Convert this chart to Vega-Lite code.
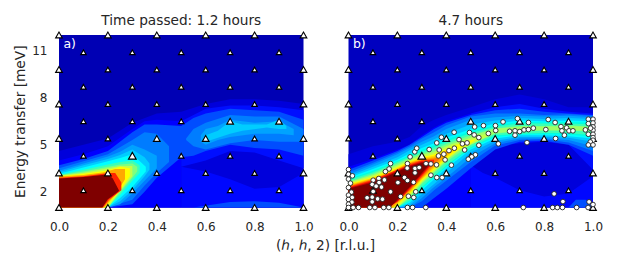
{"$schema":"https://vega.github.io/schema/vega-lite/v6.json","padding":{"left":13,"top":14,"right":0,"bottom":0},"background":"white","spacing":44.5,"bounds":"flush","config":{"font":"DejaVu Sans","view":{"stroke":null},"title":{"fontSize":13.7,"fontWeight":"normal","color":"#262626","offset":2},"axisX":{"labelPadding":14},"axisY":{"labelPadding":12},"axis":{"grid":false,"domain":false,"ticks":false,"labelFlush":false,"labelColor":"#262626","titleColor":"#262626","labelFontSize":12,"titleFontSize":13.7,"titleFontWeight":"normal"}},
"datasets":{
"bandA":[
{"v":8,"h":0,"lo":1,"hi":4.6},{"v":8,"h":0.1,"lo":1,"hi":5},{"v":8,"h":0.2,"lo":1,"hi":5.4},{"v":8,"h":0.3,"lo":1,"hi":6.4},{"v":8,"h":0.4,"lo":1,"hi":7},{"v":8,"h":0.5,"lo":1,"hi":7.1},{"v":8,"h":0.6,"lo":1,"hi":7.6},{"v":8,"h":0.7,"lo":1,"hi":7.9},{"v":8,"h":0.8,"lo":1,"hi":7.9},{"v":8,"h":0.9,"lo":1,"hi":7.8},{"v":8,"h":1,"lo":1,"hi":7.6},
{"v":11,"h":0,"lo":1,"hi":4},{"v":11,"h":0.1,"lo":1,"hi":4.4},{"v":11,"h":0.2,"lo":1,"hi":4.9},{"v":11,"h":0.3,"lo":1,"hi":6},{"v":11,"h":0.35,"lo":1,"hi":6.5},{"v":11,"h":0.4,"lo":1,"hi":6.6},{"v":11,"h":0.5,"lo":1,"hi":6.5},
{"v":11.1,"h":0.5,"lo":1,"hi":3.6},{"v":11.1,"h":0.6,"lo":1,"hi":3.3},{"v":11.1,"h":0.7,"lo":1,"hi":2.8},{"v":11.1,"h":0.8,"lo":1,"hi":2.2},{"v":11.1,"h":0.9,"lo":1,"hi":2.3},{"v":11.1,"h":1,"lo":1,"hi":3.2},
{"v":11.2,"h":0.5,"lo":3.6,"hi":6.5},{"v":11.2,"h":0.6,"lo":4,"hi":7.3},{"v":11.2,"h":0.7,"lo":4.6,"hi":7.5},{"v":11.2,"h":0.8,"lo":4.5,"hi":7.5},{"v":11.2,"h":0.9,"lo":4,"hi":7.4},{"v":11.2,"h":1,"lo":3.5,"hi":7.2},
{"v":14,"h":0,"lo":1,"hi":3.7},{"v":14,"h":0.1,"lo":1,"hi":4.1},{"v":14,"h":0.2,"lo":1,"hi":4.6},{"v":14,"h":0.3,"lo":1.2,"hi":5.8},{"v":14,"h":0.35,"lo":2,"hi":6.3},{"v":14,"h":0.4,"lo":2.9,"hi":6.3},{"v":14,"h":0.5,"lo":4.2,"hi":6.2},{"v":14,"h":0.55,"lo":4.3,"hi":6.7},{"v":14,"h":0.6,"lo":4.6,"hi":7},{"v":14,"h":0.7,"lo":5,"hi":7.3},{"v":14,"h":0.8,"lo":4.8,"hi":7.2},{"v":14,"h":0.9,"lo":4.7,"hi":7.1},{"v":14,"h":1,"lo":4.3,"hi":6.6},
{"v":14.1,"h":0.55,"lo":1,"hi":1},{"v":14.1,"h":0.7,"lo":1,"hi":1.35},{"v":14.1,"h":0.8,"lo":1,"hi":1.4},{"v":14.1,"h":0.9,"lo":1,"hi":1.3},{"v":14.1,"h":1,"lo":1,"hi":1},
{"v":18,"h":0,"lo":1,"hi":3.5},{"v":18,"h":0.1,"lo":1,"hi":3.95},{"v":18,"h":0.2,"lo":1,"hi":4.4},{"v":18,"h":0.3,"lo":1.5,"hi":5.3},{"v":18,"h":0.35,"lo":2.4,"hi":5.8},{"v":18,"h":0.4,"lo":3.2,"hi":5.7},{"v":18,"h":0.45,"lo":3.9,"hi":4.9},
{"v":18.1,"h":0.52,"lo":5.3,"hi":5.4},{"v":18.1,"h":0.55,"lo":4.9,"hi":6},{"v":18.1,"h":0.6,"lo":4.7,"hi":6.4},{"v":18.1,"h":0.7,"lo":5.1,"hi":6.9},{"v":18.1,"h":0.8,"lo":5.3,"hi":6.8},{"v":18.1,"h":0.9,"lo":5.2,"hi":6.8},{"v":18.1,"h":1,"lo":5.2,"hi":6},
{"v":22,"h":0,"lo":1,"hi":3.35},{"v":22,"h":0.1,"lo":1,"hi":3.8},{"v":22,"h":0.2,"lo":1,"hi":4.25},{"v":22,"h":0.25,"lo":1.2,"hi":4.55},{"v":22,"h":0.3,"lo":1.9,"hi":5},{"v":22,"h":0.35,"lo":2.7,"hi":4.7},{"v":22,"h":0.4,"lo":3.5,"hi":4.3},
{"v":22.1,"h":0.58,"lo":5.2,"hi":5.6},{"v":22.1,"h":0.6,"lo":5,"hi":6},{"v":22.1,"h":0.65,"lo":5.3,"hi":6.2},{"v":22.1,"h":0.7,"lo":5.5,"hi":6.6},{"v":22.1,"h":0.8,"lo":5.7,"hi":6.4},{"v":22.1,"h":0.9,"lo":5.7,"hi":6.5},{"v":22.1,"h":0.96,"lo":5.6,"hi":6},
{"v":27,"h":0,"lo":1,"hi":3.25},{"v":27,"h":0.1,"lo":1,"hi":3.7},{"v":27,"h":0.2,"lo":1,"hi":4.1},{"v":27,"h":0.25,"lo":1.4,"hi":4.35},{"v":27,"h":0.3,"lo":2.1,"hi":4.7},{"v":27,"h":0.35,"lo":3,"hi":4.2},{"v":27,"h":0.37,"lo":3.4,"hi":3.8},
{"v":27.1,"h":0.6,"lo":5.2,"hi":5.6},{"v":27.1,"h":0.65,"lo":5.45,"hi":5.9},{"v":27.1,"h":0.7,"lo":5.7,"hi":6.5},{"v":27.1,"h":0.75,"lo":5.9,"hi":6.3},{"v":27.1,"h":0.85,"lo":6.1,"hi":6.3},{"v":27.1,"h":0.9,"lo":6,"hi":6.6},{"v":27.1,"h":0.93,"lo":6,"hi":6.2},
{"v":34,"h":0,"lo":1,"hi":3.15},{"v":34,"h":0.1,"lo":1,"hi":3.55},{"v":34,"h":0.2,"lo":1,"hi":3.95},{"v":34,"h":0.25,"lo":1.6,"hi":4.15},{"v":34,"h":0.3,"lo":2.3,"hi":4.4},{"v":34,"h":0.355,"lo":3.3,"hi":3.6},
{"v":44,"h":0,"lo":1,"hi":3.08},{"v":44,"h":0.1,"lo":1,"hi":3.4},{"v":44,"h":0.2,"lo":1,"hi":3.75},{"v":44,"h":0.25,"lo":1.8,"hi":3.9},{"v":44,"h":0.3,"lo":2.7,"hi":4},{"v":44,"h":0.33,"lo":3.2,"hi":3.7},
{"v":50,"h":0,"lo":1,"hi":3.05},{"v":50,"h":0.1,"lo":1,"hi":3.3},{"v":50,"h":0.2,"lo":1,"hi":3.6},{"v":50,"h":0.25,"lo":1.95,"hi":3.75},{"v":50,"h":0.3,"lo":2.9,"hi":3.8},{"v":50,"h":0.32,"lo":3.3,"hi":3.6},
{"v":58,"h":0,"lo":1,"hi":3.02},{"v":58,"h":0.1,"lo":1,"hi":3.22},{"v":58,"h":0.2,"lo":1,"hi":3.5},{"v":58,"h":0.25,"lo":2.05,"hi":3.65},{"v":58,"h":0.3,"lo":3,"hi":3.65},
{"v":65,"h":0,"lo":1,"hi":3},{"v":65,"h":0.1,"lo":1,"hi":3.15},{"v":65,"h":0.19,"lo":1,"hi":3.35},{"v":65,"h":0.25,"lo":2.1,"hi":3.6},{"v":65,"h":0.29,"lo":3,"hi":3.5},
{"v":76,"h":0,"lo":1,"hi":2.97},{"v":76,"h":0.1,"lo":1,"hi":3.08},{"v":76,"h":0.185,"lo":1,"hi":3.25},{"v":76,"h":0.23,"lo":1.8,"hi":3.45},{"v":76,"h":0.27,"lo":2.8,"hi":3.45},
{"v":88,"h":0,"lo":1,"hi":2.9},{"v":88,"h":0.1,"lo":1,"hi":3},{"v":88,"h":0.18,"lo":1,"hi":3.15},{"v":88,"h":0.205,"lo":1.5,"hi":3.2},{"v":88,"h":0.23,"lo":1.8,"hi":3.2},{"v":88,"h":0.255,"lo":2.1,"hi":2.6},
{"v":100,"h":0,"lo":1,"hi":2.85},{"v":100,"h":0.1,"lo":1,"hi":2.95},{"v":100,"h":0.177,"lo":1,"hi":3.08},{"v":100,"h":0.2,"lo":1.52,"hi":3.12},{"v":100,"h":0.22,"lo":1.75,"hi":2.85},{"v":100,"h":0.245,"lo":2.06,"hi":2.1}],
"bandB":[
{"v":8,"h":0,"lo":1,"hi":4.4},{"v":8,"h":0.1,"lo":1,"hi":4.9},{"v":8,"h":0.2,"lo":1,"hi":5.2},{"v":8,"h":0.25,"lo":1,"hi":5.5},{"v":8,"h":0.3,"lo":1,"hi":6.2},{"v":8,"h":0.35,"lo":1,"hi":6.6},{"v":8,"h":0.4,"lo":1,"hi":6.9},{"v":8,"h":0.5,"lo":1,"hi":7.4},{"v":8,"h":0.6,"lo":1,"hi":7.9},{"v":8,"h":0.7,"lo":1,"hi":8.2},{"v":8,"h":0.8,"lo":1,"hi":7.9},{"v":8,"h":0.9,"lo":1,"hi":7.4},{"v":8,"h":1,"lo":1,"hi":7.4},
{"v":11,"h":0,"lo":1,"hi":3.6},{"v":11,"h":0.1,"lo":1,"hi":4.1},{"v":11,"h":0.2,"lo":1,"hi":4.7},{"v":11,"h":0.25,"lo":1,"hi":5},{"v":11,"h":0.3,"lo":1,"hi":5.6},{"v":11,"h":0.35,"lo":1,"hi":6.1},{"v":11,"h":0.4,"lo":1,"hi":6.5},{"v":11,"h":0.5,"lo":1,"hi":7},
{"v":11.1,"h":0.5,"lo":1,"hi":3.7},{"v":11.1,"h":0.55,"lo":1,"hi":3.2},{"v":11.1,"h":0.6,"lo":1,"hi":2.9},{"v":11.1,"h":0.7,"lo":1,"hi":2.1},{"v":11.1,"h":0.8,"lo":1,"hi":1.7},{"v":11.1,"h":0.9,"lo":1,"hi":1.9},{"v":11.1,"h":1,"lo":1,"hi":3},
{"v":11.2,"h":0.5,"lo":3.7,"hi":7},{"v":11.2,"h":0.55,"lo":4.4,"hi":7.2},{"v":11.2,"h":0.6,"lo":4.9,"hi":7.4},{"v":11.2,"h":0.7,"lo":5.1,"hi":7.6},{"v":11.2,"h":0.8,"lo":5.2,"hi":7.3},{"v":11.2,"h":0.9,"lo":5,"hi":7.1},{"v":11.2,"h":1,"lo":3.4,"hi":7},
{"v":14,"h":0,"lo":1,"hi":3.4},{"v":14,"h":0.1,"lo":1,"hi":4},{"v":14,"h":0.2,"lo":1,"hi":4.6},{"v":14,"h":0.25,"lo":1,"hi":5},{"v":14,"h":0.3,"lo":1,"hi":5.5},{"v":14,"h":0.35,"lo":1.6,"hi":6},{"v":14,"h":0.4,"lo":2.2,"hi":6.4},{"v":14,"h":0.5,"lo":3.5,"hi":6.9},{"v":14,"h":0.6,"lo":4.7,"hi":7.2},{"v":14,"h":0.7,"lo":5.2,"hi":7.3},{"v":14,"h":0.8,"lo":5.25,"hi":7.1},{"v":14,"h":0.9,"lo":5,"hi":7},{"v":14,"h":1,"lo":4.3,"hi":6.9},
{"v":14.1,"h":0.9,"lo":1,"hi":1},{"v":14.1,"h":0.93,"lo":1,"hi":1.5},{"v":14.1,"h":0.97,"lo":1,"hi":1.5},{"v":14.1,"h":1,"lo":1,"hi":1.1},
{"v":18,"h":0,"lo":1,"hi":3.25},{"v":18,"h":0.1,"lo":1,"hi":3.85},{"v":18,"h":0.2,"lo":1,"hi":4.5},{"v":18,"h":0.25,"lo":1,"hi":4.9},{"v":18,"h":0.3,"lo":1.4,"hi":5.4},{"v":18,"h":0.35,"lo":2.1,"hi":5.8},{"v":18,"h":0.4,"lo":2.7,"hi":6.25},{"v":18,"h":0.5,"lo":3.9,"hi":6.8},{"v":18,"h":0.6,"lo":4.95,"hi":7},{"v":18,"h":0.7,"lo":5.3,"hi":7},{"v":18,"h":0.8,"lo":5.35,"hi":6.9},{"v":18,"h":0.9,"lo":5.15,"hi":6.95},{"v":18,"h":1,"lo":4.6,"hi":6.85},
{"v":22,"h":0,"lo":1,"hi":3.1},{"v":22,"h":0.1,"lo":1,"hi":3.75},{"v":22,"h":0.2,"lo":1,"hi":4.4},{"v":22,"h":0.25,"lo":1,"hi":4.8},{"v":22,"h":0.3,"lo":1.6,"hi":5.2},{"v":22,"h":0.35,"lo":2.3,"hi":5.55},{"v":22,"h":0.4,"lo":2.9,"hi":6},{"v":22,"h":0.5,"lo":4.2,"hi":6.6},{"v":22,"h":0.6,"lo":5.1,"hi":6.75},{"v":22,"h":0.7,"lo":5.4,"hi":6.85},{"v":22,"h":0.8,"lo":5.4,"hi":6.8},{"v":22,"h":0.9,"lo":5.3,"hi":6.85},{"v":22,"h":1,"lo":4.9,"hi":6.75},
{"v":27,"h":0,"lo":1,"hi":3},{"v":27,"h":0.1,"lo":1,"hi":3.6},{"v":27,"h":0.2,"lo":1,"hi":4.2},{"v":27,"h":0.25,"lo":1.15,"hi":4.65},{"v":27,"h":0.3,"lo":1.85,"hi":5},{"v":27,"h":0.35,"lo":2.5,"hi":5.35},{"v":27,"h":0.4,"lo":3.2,"hi":5.7},{"v":27,"h":0.5,"lo":4.5,"hi":6.3},{"v":27,"h":0.6,"lo":5.25,"hi":6.55},{"v":27,"h":0.7,"lo":5.5,"hi":6.7},{"v":27,"h":0.8,"lo":5.5,"hi":6.65},{"v":27,"h":0.9,"lo":5.45,"hi":6.7},{"v":27,"h":1,"lo":5.2,"hi":6.65},
{"v":34,"h":0,"lo":1,"hi":2.9},{"v":34,"h":0.1,"lo":1,"hi":3.45},{"v":34,"h":0.2,"lo":1,"hi":4.05},{"v":34,"h":0.25,"lo":1.3,"hi":4.45},{"v":34,"h":0.3,"lo":2.1,"hi":4.8},{"v":34,"h":0.35,"lo":2.8,"hi":5.1},{"v":34,"h":0.4,"lo":3.5,"hi":5.45},{"v":34,"h":0.5,"lo":4.7,"hi":6},{"v":34,"h":0.6,"lo":5.4,"hi":6.35},{"v":34,"h":0.7,"lo":5.6,"hi":6.55},{"v":34,"h":0.8,"lo":5.6,"hi":6.5},{"v":34,"h":0.9,"lo":5.55,"hi":6.55},{"v":34,"h":1,"lo":5.4,"hi":6.5},
{"v":39,"h":0,"lo":1,"hi":2.82},{"v":39,"h":0.1,"lo":1,"hi":3.35},{"v":39,"h":0.2,"lo":1,"hi":3.97},{"v":39,"h":0.25,"lo":1.38,"hi":4.35},{"v":39,"h":0.3,"lo":2.2,"hi":4.67},{"v":39,"h":0.35,"lo":2.9,"hi":4.97},{"v":39,"h":0.4,"lo":3.6,"hi":5.32},{"v":39,"h":0.5,"lo":4.78,"hi":5.87},{"v":39,"h":0.6,"lo":5.5,"hi":6.25},{"v":39,"h":0.7,"lo":5.65,"hi":6.45},{"v":39,"h":0.8,"lo":5.67,"hi":6.42},{"v":39,"h":0.9,"lo":5.65,"hi":6.45},{"v":39,"h":1,"lo":5.5,"hi":6.4},
{"v":44,"h":0,"lo":1,"hi":2.75},{"v":44,"h":0.1,"lo":1,"hi":3.25},{"v":44,"h":0.2,"lo":1,"hi":3.9},{"v":44,"h":0.25,"lo":1.45,"hi":4.25},{"v":44,"h":0.3,"lo":2.3,"hi":4.55},{"v":44,"h":0.35,"lo":3,"hi":4.85},{"v":44,"h":0.4,"lo":3.7,"hi":5.2},{"v":44,"h":0.5,"lo":4.85,"hi":5.75},{"v":44,"h":0.6,"lo":5.6,"hi":6.15},{"v":44,"h":0.7,"lo":5.7,"hi":6.35},{"v":44,"h":0.8,"lo":5.75,"hi":6.35},{"v":44,"h":0.9,"lo":5.75,"hi":6.35},{"v":44,"h":1,"lo":5.6,"hi":6.3},
{"v":50,"h":0,"lo":1,"hi":2.65},{"v":50,"h":0.1,"lo":1,"hi":3.15},{"v":50,"h":0.2,"lo":1,"hi":3.8},{"v":50,"h":0.25,"lo":1.6,"hi":4.15},{"v":50,"h":0.3,"lo":2.5,"hi":4.45},{"v":50,"h":0.35,"lo":3.2,"hi":4.7},{"v":50,"h":0.4,"lo":3.9,"hi":5.05},{"v":50,"h":0.5,"lo":5,"hi":5.6},{"v":50,"h":0.6,"lo":5.7,"hi":6.05},{"v":50,"h":0.7,"lo":5.85,"hi":6.2},{"v":50,"h":0.8,"lo":5.9,"hi":6.2},{"v":50,"h":0.9,"lo":5.9,"hi":6.25},{"v":50,"h":1,"lo":5.85,"hi":6.15},
{"v":54,"h":0.5,"lo":5.05,"hi":5.55},{"v":54,"h":0.6,"lo":5.75,"hi":6.02},{"v":54,"h":0.7,"lo":5.9,"hi":6.15},{"v":54,"h":0.8,"lo":5.95,"hi":6.15},{"v":54,"h":0.9,"lo":5.95,"hi":6.2},{"v":54,"h":1,"lo":5.9,"hi":6.12},
{"v":58,"h":0,"lo":1,"hi":2.6},{"v":58,"h":0.1,"lo":1,"hi":3.05},{"v":58,"h":0.2,"lo":1,"hi":3.7},{"v":58,"h":0.25,"lo":1.7,"hi":4.05},{"v":58,"h":0.3,"lo":2.6,"hi":4.35},{"v":58,"h":0.35,"lo":3.3,"hi":4.55},{"v":58,"h":0.4,"lo":4,"hi":4.9},{"v":58,"h":0.45,"lo":4.6,"hi":5.2},{"v":58,"h":0.5,"lo":5,"hi":5.45},{"v":58,"h":0.55,"lo":5.4,"hi":5.65},{"v":58,"h":0.58,"lo":5.6,"hi":5.7},
{"v":65,"h":0,"lo":1,"hi":2.5},{"v":65,"h":0.1,"lo":1,"hi":2.95},{"v":65,"h":0.19,"lo":1,"hi":3.5},{"v":65,"h":0.25,"lo":1.85,"hi":3.95},{"v":65,"h":0.3,"lo":2.7,"hi":4.2},{"v":65,"h":0.35,"lo":3.4,"hi":4.4},{"v":65,"h":0.4,"lo":4.1,"hi":4.75},{"v":65,"h":0.45,"lo":4.7,"hi":5.05},{"v":65,"h":0.5,"lo":5.1,"hi":5.3},{"v":65,"h":0.52,"lo":5.3,"hi":5.35},
{"v":70,"h":0,"lo":1,"hi":2.45},{"v":70,"h":0.1,"lo":1,"hi":2.9},{"v":70,"h":0.185,"lo":1,"hi":3.4},{"v":70,"h":0.25,"lo":1.92,"hi":3.9},{"v":70,"h":0.3,"lo":2.78,"hi":4.15},{"v":70,"h":0.35,"lo":3.5,"hi":4.3},{"v":70,"h":0.4,"lo":4.2,"hi":4.67},{"v":70,"h":0.44,"lo":4.7,"hi":4.85},
{"v":76,"h":0,"lo":1,"hi":2.4},{"v":76,"h":0.1,"lo":1,"hi":2.85},{"v":76,"h":0.18,"lo":1,"hi":3.3},{"v":76,"h":0.25,"lo":2,"hi":3.85},{"v":76,"h":0.3,"lo":2.85,"hi":4.1},{"v":76,"h":0.35,"lo":3.6,"hi":4.2},{"v":76,"h":0.4,"lo":4.3,"hi":4.6},{"v":76,"h":0.42,"lo":4.6,"hi":4.7},
{"v":82,"h":0,"lo":1,"hi":2.35},{"v":82,"h":0.1,"lo":1,"hi":2.8},{"v":82,"h":0.17,"lo":1,"hi":3.2},{"v":82,"h":0.25,"lo":2.08,"hi":3.8},{"v":82,"h":0.3,"lo":2.92,"hi":4.05},{"v":82,"h":0.35,"lo":3.75,"hi":4.12},{"v":82,"h":0.37,"lo":4.05,"hi":4.2},
{"v":88,"h":0,"lo":1,"hi":2.3},{"v":88,"h":0.1,"lo":1,"hi":2.75},{"v":88,"h":0.16,"lo":1,"hi":3.15},{"v":88,"h":0.2,"lo":1.35,"hi":3.4},{"v":88,"h":0.25,"lo":2.15,"hi":3.75},{"v":88,"h":0.3,"lo":3,"hi":4},{"v":88,"h":0.35,"lo":3.9,"hi":4.05},
{"v":94,"h":0,"lo":1,"hi":2.25},{"v":94,"h":0.1,"lo":1,"hi":2.67},{"v":94,"h":0.165,"lo":1,"hi":3.1},{"v":94,"h":0.2,"lo":1.42,"hi":3.35},{"v":94,"h":0.25,"lo":2.22,"hi":3.68},{"v":94,"h":0.3,"lo":3.1,"hi":3.92},{"v":94,"h":0.34,"lo":3.8,"hi":3.9},
{"v":100,"h":0,"lo":1,"hi":2.2},{"v":100,"h":0.1,"lo":1,"hi":2.6},{"v":100,"h":0.169,"lo":1,"hi":3.05},{"v":100,"h":0.2,"lo":1.5,"hi":3.3},{"v":100,"h":0.25,"lo":2.3,"hi":3.6},{"v":100,"h":0.3,"lo":3.2,"hi":3.85},{"v":100,"h":0.33,"lo":3.75,"hi":3.8}],
"tri":[
{"h":0,"e":1,"a":2,"b":2},{"h":0.2,"e":1,"a":2,"b":2},{"h":0.4,"e":1,"a":2,"b":2},{"h":0.6,"e":1,"a":2,"b":2},{"h":0.8,"e":1,"a":2,"b":2},{"h":1,"e":1,"a":2,"b":2},
{"h":0.1,"e":2.1,"a":1,"b":2},{"h":0.3,"e":2.1,"a":1,"b":1},{"h":0.5,"e":2.1,"a":1,"b":1},{"h":0.7,"e":2.1,"a":1,"b":1},{"h":0.9,"e":2.1,"a":1,"b":1},
{"h":0,"e":3.2,"a":2,"b":2},{"h":0.2,"e":3.2,"a":2,"b":2},{"h":0.4,"e":3.2,"a":1,"b":2},{"h":0.6,"e":3.2,"a":1,"b":1},{"h":0.8,"e":3.2,"a":1,"b":1},{"h":1,"e":3.2,"a":2,"b":2},
{"h":0.1,"e":4.3,"a":1,"b":1},{"h":0.3,"e":4.3,"a":3,"b":3},{"h":0.5,"e":4.3,"a":1,"b":1},{"h":0.7,"e":4.3,"a":1,"b":1},{"h":0.9,"e":4.3,"a":1,"b":1},
{"h":0,"e":5.4,"a":2,"b":1},{"h":0.2,"e":5.4,"a":1,"b":1},{"h":0.4,"e":5.4,"a":2,"b":2},{"h":0.6,"e":5.4,"a":2,"b":2},{"h":0.8,"e":5.4,"a":1,"b":2},{"h":1,"e":5.4,"a":2,"b":2},
{"h":0.1,"e":6.5,"a":1,"b":1},{"h":0.3,"e":6.5,"a":1,"b":1},{"h":0.5,"e":6.5,"a":1,"b":2},{"h":0.7,"e":6.5,"a":2,"b":2},{"h":0.9,"e":6.5,"a":2,"b":2},
{"h":0,"e":7.6,"a":2,"b":2},{"h":0.2,"e":7.6,"a":1,"b":1},{"h":0.4,"e":7.6,"a":1,"b":1},{"h":0.6,"e":7.6,"a":1,"b":1},{"h":0.8,"e":7.6,"a":1,"b":1},{"h":1,"e":7.6,"a":2,"b":2},
{"h":0.1,"e":8.7,"a":1,"b":1},{"h":0.3,"e":8.7,"a":1,"b":1},{"h":0.5,"e":8.7,"a":1,"b":1},{"h":0.7,"e":8.7,"a":1,"b":1},{"h":0.9,"e":8.7,"a":1,"b":1},
{"h":0,"e":9.8,"a":2,"b":2},{"h":0.2,"e":9.8,"a":1,"b":1},{"h":0.4,"e":9.8,"a":1,"b":1},{"h":0.6,"e":9.8,"a":1,"b":1},{"h":0.8,"e":9.8,"a":1,"b":1},{"h":1,"e":9.8,"a":2,"b":2},
{"h":0.1,"e":10.9,"a":1,"b":1},{"h":0.3,"e":10.9,"a":1,"b":1},{"h":0.5,"e":10.9,"a":1,"b":1},{"h":0.7,"e":10.9,"a":1,"b":1},{"h":0.9,"e":10.9,"a":1,"b":1},
{"h":0,"e":12,"a":2,"b":2},{"h":0.2,"e":12,"a":2,"b":2},{"h":0.4,"e":12,"a":2,"b":2},{"h":0.6,"e":12,"a":2,"b":2},{"h":0.8,"e":12,"a":2,"b":2},{"h":1,"e":12,"a":2,"b":2}],
"dots":[
{"h":0,"e":3.42},{"h":0,"e":3.12},{"h":0.016,"e":3.02},{"h":0,"e":2.81},{"h":0.008,"e":2.55},{"h":0,"e":2.27},{"h":0.012,"e":1.98},{"h":0,"e":1.79},{"h":0.015,"e":1.64},{"h":0,"e":1.51},{"h":0.014,"e":1.34},{"h":0,"e":1.21},{"h":0,"e":1},
{"h":0.019,"e":1},{"h":0.041,"e":1},{"h":0.087,"e":1},{"h":0.108,"e":1},{"h":0.144,"e":1},{"h":0.165,"e":1},{"h":0.241,"e":1},{"h":0.262,"e":1},{"h":0.316,"e":1},{"h":0.715,"e":1},{"h":0.835,"e":1},{"h":0.854,"e":1},{"h":0.875,"e":1},{"h":0.933,"e":1},{"h":0.98,"e":1},
{"h":0.172,"e":3.8},{"h":0.166,"e":3.46},{"h":0.151,"e":3.29},{"h":0.124,"e":2.85},{"h":0.101,"e":2.74},{"h":0.147,"e":2.76},{"h":0.097,"e":2.47},{"h":0.125,"e":2.59},{"h":0.113,"e":2.36},{"h":0.135,"e":2.3},{"h":0.101,"e":2.02},{"h":0.172,"e":2},{"h":0.076,"e":1.62},{"h":0.097,"e":1.66},{"h":0.119,"e":1.55},{"h":0.139,"e":1.53},{"h":0.097,"e":1.36},{"h":0.202,"e":2.59},{"h":0.241,"e":3.8},{"h":0.24,"e":3.51},{"h":0.272,"e":3.49},{"h":0.272,"e":3.21},{"h":0.289,"e":3.55},{"h":0.229,"e":2.91},{"h":0.241,"e":2.72},{"h":0.266,"e":2.61},{"h":0.213,"e":1.7},{"h":0.245,"e":1.72},{"h":0.267,"e":1.64},{"h":0.275,"e":2},
{"h":0.317,"e":3.8},{"h":0.337,"e":3.78},{"h":0.36,"e":3.72},{"h":0.337,"e":3.06},{"h":0.361,"e":2.91},{"h":0.383,"e":2.91},{"h":0.421,"e":3.7},{"h":0.395,"e":4.04},{"h":0.39,"e":4.4},{"h":0.411,"e":4.63},{"h":0.433,"e":4.78},{"h":0.371,"e":4.67},{"h":0.368,"e":4.29},{"h":0.252,"e":4.23},{"h":0.271,"e":4.55},{"h":0.279,"e":4.78},{"h":0.33,"e":4.7},{"h":0.361,"e":5.12},{"h":0.38,"e":5.48},{"h":0.432,"e":5.8},{"h":0.495,"e":5.78},{"h":0.514,"e":5.63},{"h":0.533,"e":5.46},{"h":0.452,"e":5.33},{"h":0.466,"e":5.06},{"h":0.485,"e":5.12},{"h":0.533,"e":4.97},{"h":0.475,"e":4.67},{"h":0.519,"e":4.36},{"h":0.504,"e":4.23},{"h":0.49,"e":4.08},{"h":0.516,"e":6.14},{"h":0.552,"e":6.22},{"h":0.601,"e":6.22},{"h":0.602,"e":5.91},{"h":0.572,"e":5.72},{"h":0.632,"e":6.46},{"h":0.613,"e":5.06},{"h":0.659,"e":5.86},{"h":0.681,"e":5.89},{"h":0.681,"e":5.61},{"h":0.7,"e":5.84},{"h":0.691,"e":6.67},{"h":0.718,"e":5.95},{"h":0.736,"e":5.97},{"h":0.756,"e":6.06},{"h":0.736,"e":6.42},{"h":0.73,"e":5.14},{"h":0.807,"e":5.97},{"h":0.817,"e":6.61},{"h":0.845,"e":6.42},{"h":0.869,"e":6.16},{"h":0.873,"e":5.89},{"h":0.892,"e":6.08},{"h":0.902,"e":5.89},{"h":0.918,"e":5.89},{"h":0.883,"e":5.61},{"h":0.847,"e":5.4},{"h":0.969,"e":5.95},{"h":0.981,"e":6.63},{"h":0.981,"e":6.35},{"h":1,"e":6.63},{"h":1,"e":6.39},{"h":1,"e":6.14},{"h":1,"e":5.93},{"h":0.99,"e":6.06},{"h":0.981,"e":5.67},{"h":1,"e":5.67},{"h":1,"e":5.46},{"h":1,"e":5.29},{"h":0.989,"e":5.18},{"h":0.981,"e":4.99},{"h":1,"e":4.99},{"h":0.841,"e":1.87},{"h":0.877,"e":1.38},{"h":0.984,"e":1.36},{"h":1,"e":1.19}],
"labelA":[{"h":0.018,"e":11.45,"t":"a)"}],
"labelB":[{"h":0.018,"e":11.45,"t":"b)"}]},
"hconcat":[
{"width":244.5,"height":172.5,"title":"Time passed: 1.2 hours","view":{"fill":"#0000b4","stroke":null},"layer":[
{"data":{"name":"bandA"},"mark":{"type":"area","orient":"vertical","interpolate":"linear"},"encoding":{"x":{"field":"h","type":"quantitative","scale":{"domain":[0,1],"nice":false},"axis":{"values":[0,0.2,0.4,0.6,0.8,1],"format":".1f","title":"(ℎ, ℎ, 2) [r.l.u.]","titleX":266,"titleY":37.5,"titleBaseline":"middle","titleAnchor":"middle","titleAlign":"center"}},"y":{"field":"lo","type":"quantitative","scale":{"domain":[1,12],"nice":false},"axis":{"values":[2,5,8,11],"format":"d","title":"Energy transfer [meV]"}},"y2":{"field":"hi"},"detail":{"field":"v"},"color":{"field":"v","type":"quantitative","legend":null,"scale":{"domain":[0,11,34,50,65,89,100],"range":["#00007f","#0000ff","#00ffff","#7fff7f","#ffff00","#ff0000","#7f0000"],"clamp":true}}}},
{"data":{"name":"tri"},"mark":{"type":"point","shape":"triangle-up","filled":true,"fill":"white","stroke":"#000","strokeWidth":1.1,"opacity":1},"encoding":{"x":{"field":"h","type":"quantitative"},"y":{"field":"e","type":"quantitative"},"size":{"field":"a","type":"quantitative","legend":null,"scale":{"domain":[1,3],"range":[30,60]}}}},
{"data":{"name":"labelA"},"mark":{"type":"text","color":"white","fontSize":12.5,"align":"left","baseline":"middle"},"encoding":{"x":{"field":"h","type":"quantitative"},"y":{"field":"e","type":"quantitative"},"text":{"field":"t"}}}
]},
{"width":244.5,"height":172.5,"title":"4.7 hours","view":{"fill":"#0000c0","stroke":null},"layer":[
{"data":{"name":"bandB"},"mark":{"type":"area","orient":"vertical","interpolate":"linear"},"encoding":{"x":{"field":"h","type":"quantitative","scale":{"domain":[0,1],"nice":false},"axis":{"values":[0,0.2,0.4,0.6,0.8,1],"format":".1f","title":null}},"y":{"field":"lo","type":"quantitative","scale":{"domain":[1,12],"nice":false},"axis":null},"y2":{"field":"hi"},"detail":{"field":"v"},"color":{"field":"v","type":"quantitative","legend":null,"scale":{"domain":[0,11,34,50,65,89,100],"range":["#00007f","#0000ff","#00ffff","#7fff7f","#ffff00","#ff0000","#7f0000"],"clamp":true}}}},
{"data":{"name":"tri"},"mark":{"type":"point","shape":"triangle-up","filled":true,"fill":"white","stroke":"#000","strokeWidth":1.1,"opacity":1},"encoding":{"x":{"field":"h","type":"quantitative"},"y":{"field":"e","type":"quantitative"},"size":{"field":"b","type":"quantitative","legend":null,"scale":{"domain":[1,3],"range":[30,60]}}}},
{"data":{"name":"dots"},"mark":{"type":"point","shape":"circle","filled":true,"fill":"white","stroke":"#222","strokeWidth":0.9,"size":22,"opacity":1},"encoding":{"x":{"field":"h","type":"quantitative"},"y":{"field":"e","type":"quantitative"}}},
{"data":{"name":"labelB"},"mark":{"type":"text","color":"white","fontSize":12.5,"align":"left","baseline":"middle"},"encoding":{"x":{"field":"h","type":"quantitative"},"y":{"field":"e","type":"quantitative"},"text":{"field":"t"}}}
]}
]}
